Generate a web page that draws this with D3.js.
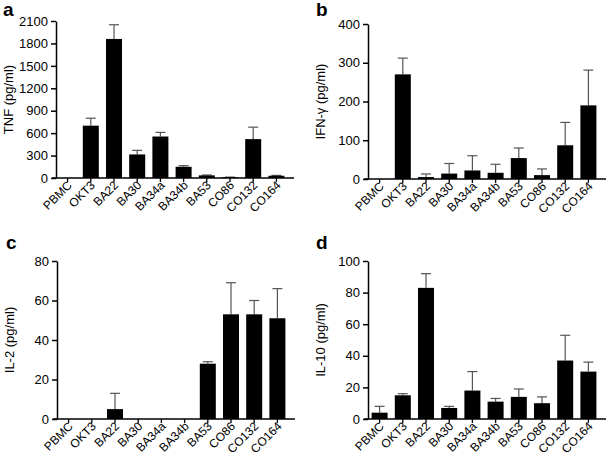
<!DOCTYPE html>
<html><head><meta charset="utf-8">
<script src="https://cdn.jsdelivr.net/npm/d3@7"></script>
<style>body{margin:0;background:#fff;}svg{display:block;font-family:"Liberation Sans",Arial,Helvetica,sans-serif;}</style>
</head><body>
<svg id="chart" width="609" height="460"></svg>
<script>
const categories = ["PBMC","OKT3","BA22","BA30","BA34a","BA34b","BA53","CO86","CO132","CO164"];
const tnfValues = [0,700,1860,315,555,150,35,10,520,30];
const tnfErrors = [0,800,2050,370,610,165,40,12,680,35];
const tnfTicks = [0,300,600,900,1200,1500,1800,2100];
const ifnValues = [0,270,5,14,22,16,54,10,87,190];
const ifnErrors = [0,312,13,40,60,38,80,26,146,281];
const ifnTicks = [0,100,200,300,400];
const il2Values = [0,0,5,0,0,0,28,53,53,51];
const il2Errors = [0,0,13,0,0,0,29,69,60,66];
const il2Ticks = [0,20,40,60,80];
const il10Values = [4,15,83,7,18,11,14,10,37,30];
const il10Errors = [8,16,92,8,30,13,19,14,53,36];
const il10Ticks = [0,20,40,60,80,100];

const svg = d3.select("#chart");

function panel(opt){
  const g = svg.append("g");
  const x = d3.scaleBand().domain(categories).range([opt.left, opt.left+232]).paddingInner(0.31).paddingOuter(0.155);
  const y = d3.scaleLinear().domain([0, opt.ticks[opt.ticks.length-1]]).range([opt.bottom, opt.top]);
  // error bars
  categories.forEach((c,i)=>{
    if(opt.errors[i] > opt.values[i]){
      const cx = x(c)+x.bandwidth()/2;
      g.append("line").attr("x1",cx).attr("x2",cx).attr("y1",y(opt.values[i])).attr("y2",y(opt.errors[i])).attr("stroke","#555").attr("stroke-width",1.2);
      g.append("line").attr("x1",cx-5).attr("x2",cx+5).attr("y1",y(opt.errors[i])).attr("y2",y(opt.errors[i])).attr("stroke","#555").attr("stroke-width",1.2);
    }
  });
  g.selectAll("rect.bar").data(categories).enter().append("rect")
    .attr("x", d=>x(d)).attr("width", x.bandwidth())
    .attr("y", (d,i)=>y(opt.values[i])).attr("height",(d,i)=>opt.bottom-y(opt.values[i]))
    .attr("fill","#000");
  // y axis
  const ya = g.append("g").attr("transform",`translate(${opt.left},0)`)
    .call(d3.axisLeft(y).tickValues(opt.ticks).tickFormat(d3.format("d")).tickSize(5).tickPadding(3).tickSizeOuter(0));
  ya.select(".domain").attr("stroke","#000").attr("stroke-width",1.5);
  ya.selectAll(".tick line").attr("stroke-width",1.5);
  ya.selectAll("text").attr("font-size",13).attr("fill","#000");
  // x axis
  const xa = g.append("g").attr("transform",`translate(0,${opt.bottom})`)
    .call(d3.axisBottom(x).tickSize(4).tickSizeOuter(0));
  xa.select(".domain").attr("d",`M${opt.left-4},0H${opt.left+238}`).attr("stroke-width",1.5);
  xa.selectAll(".tick line").attr("stroke-width",1.3);
  xa.selectAll("text").attr("font-size",12).attr("fill","#000")
    .attr("text-anchor","end").attr("dy",0).attr("y",0).attr("x",0)
    .attr("transform","translate(5,8) rotate(-45)");
  // y label
  g.append("text").attr("transform",`translate(${opt.left-43},${(opt.top+opt.bottom)/2}) rotate(-90)`)
    .attr("text-anchor","middle").attr("font-size",13).attr("fill","#000").text(opt.label);
  g.append("text").attr("x",opt.letterX).attr("y",opt.letterY).attr("font-size",19).attr("font-weight","bold").text(opt.letter);
}

panel({letter:"a",letterX:3,letterY:16,label:"TNF (pg/ml)",left:56,top:21,bottom:178,values:tnfValues,errors:tnfErrors,ticks:tnfTicks});
panel({letter:"b",letterX:316,letterY:16,label:"IFN-γ (pg/ml)",left:368,top:24,bottom:179,values:ifnValues,errors:ifnErrors,ticks:ifnTicks});
panel({letter:"c",letterX:6,letterY:249,label:"IL-2 (pg/ml)",left:57,top:261,bottom:419,values:il2Values,errors:il2Errors,ticks:il2Ticks});
panel({letter:"d",letterX:316,letterY:249,label:"IL-10 (pg/ml)",left:368,top:261,bottom:419,values:il10Values,errors:il10Errors,ticks:il10Ticks});
</script>
</body></html>
